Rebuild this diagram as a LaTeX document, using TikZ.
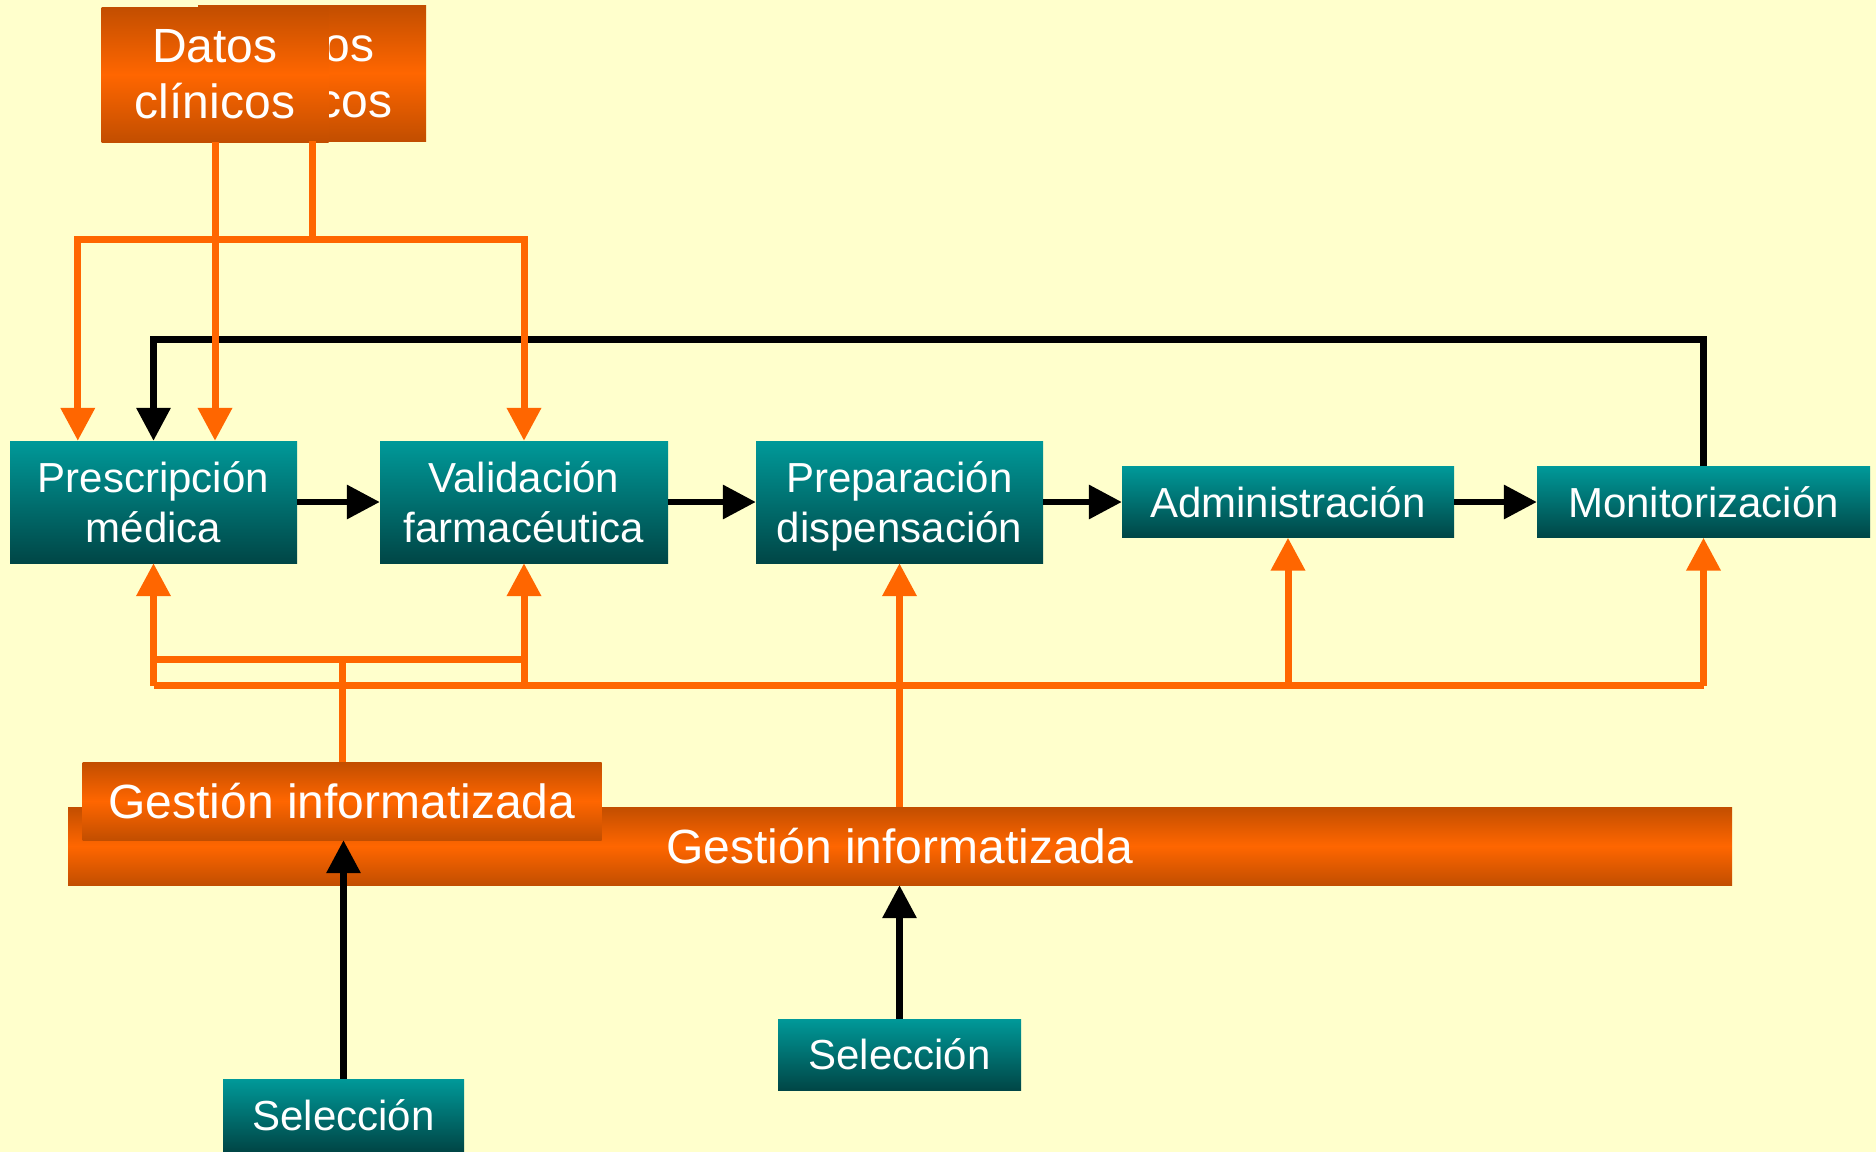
\documentclass[tikz,border=0pt]{standalone}
\usepackage{fontspec}
\setmainfont{Liberation Sans}
\usetikzlibrary{arrows.meta,calc}
\definecolor{bg}{RGB}{255,255,204}
\definecolor{orng}{RGB}{255,102,0}
\definecolor{orngdark}{RGB}{194,78,0}
\definecolor{tealtop}{RGB}{0,153,153}
\definecolor{tealbot}{RGB}{0,70,70}
\tikzset{
  tbox/.style={top color=tealtop, bottom color=tealbot, text=white, align=center,
    inner sep=0pt, font=\fontsize{42}{50}\selectfont},
  obox/.style={top color=orngdark, bottom color=orngdark, middle color=orng, text=white,
    align=center, inner sep=0pt, font=\fontsize{48}{56}\selectfont},
  oline/.style={draw=orng, line width=7pt},
  oarrow/.style={oline, -{Triangle[length=33pt,width=33pt]}},
  bline/.style={draw=black, line width=6.5pt},
  barrow/.style={bline, -{Triangle[length=33pt,width=33pt]}},
}
\begin{document}
\begin{tikzpicture}[x=1pt,y=-1pt]
\fill[bg] (0,0) rectangle (1876,1152);
\useasboundingbox (0,0) rectangle (1876,1152);

% main row
\node[tbox, minimum width=287pt, minimum height=122pt] (presc) at (153.5,502) {Prescripción\\médica};
\node[tbox, minimum width=288pt, minimum height=122pt] (valid) at (524,502) {Validación\\farmacéutica};
\node[tbox, minimum width=287pt, minimum height=122pt] (prep) at (899.5,502) {Preparación\\\raisebox{0pt}[\height][0pt]{dispensación}};
\node[tbox, minimum width=332pt, minimum height=71pt] (admin) at (1288,502) {Administración};
\node[tbox, minimum width=333pt, minimum height=71pt] (monit) at (1703.5,502) {Monitorización};

% selection boxes
\node[tbox, minimum width=241pt, minimum height=72pt] (sel1) at (343.5,1115) {Selección};
\node[tbox, minimum width=243pt, minimum height=71pt] (sel2) at (899.5,1054.5) {Selección};

% gestion bars
\node[obox, minimum width=1664pt, minimum height=78pt] (gestB) at (900,846) {Gestión informatizada};
\node[obox, minimum width=519pt, minimum height=78pt] (gestS) at (342,801) {Gestión informatizada};

% datos clinicos boxes
\node[obox, minimum width=228pt, minimum height=136pt] (datosB) at (312,73) {Datos\\clínicos};
\node[obox, minimum width=227pt, minimum height=135pt] (datosF) at (215,74.5) {Datos\\clínicos};

% process arrows
\draw[barrow] (presc.east) -- (valid.west);
\draw[barrow] (valid.east) -- (prep.west);
\draw[barrow] (prep.east) -- (admin.west);
\draw[barrow] (admin.east) -- (monit.west);

% feedback loop
\draw[barrow] (monit.north) -- ++(0,-127) -| (presc.north);

% datos clinicos connectors
\draw[oline] (datosB.south) -- ++(0,98) coordinate (jd);
\draw[oarrow] (jd) -| (valid.north);
\draw[oarrow] (jd) -| ($(presc.north west)+(68,0)$);
\draw[oarrow] (datosF.south) -- (presc.north -| datosF.south);

% gestion connectors
\draw[oline] (gestS.north) -- ++(0,-102) coordinate (g1);
\coordinate (g2) at ($(g1)+(0,26)$);
\draw[oline] (presc.south |- g1) -- (valid.south |- g1);
\draw[oline] (presc.south |- g2) -- (monit.south |- g2);
\draw[oarrow] (presc.south |- g2) -- (presc.south);
\draw[oarrow] (valid.south |- g2) -- (valid.south);
\draw[oarrow] (admin.south |- g2) -- (admin.south);
\draw[oarrow] (monit.south |- g2) -- (monit.south);
\draw[oarrow] (gestB.north -| prep.south) -- (prep.south);

% seleccion arrows
\draw[barrow] (sel1.north) -- (gestS.south -| sel1.north);
\draw[barrow] (sel2.north) -- (gestB.south -| sel2.north);
\end{tikzpicture}
\end{document}
